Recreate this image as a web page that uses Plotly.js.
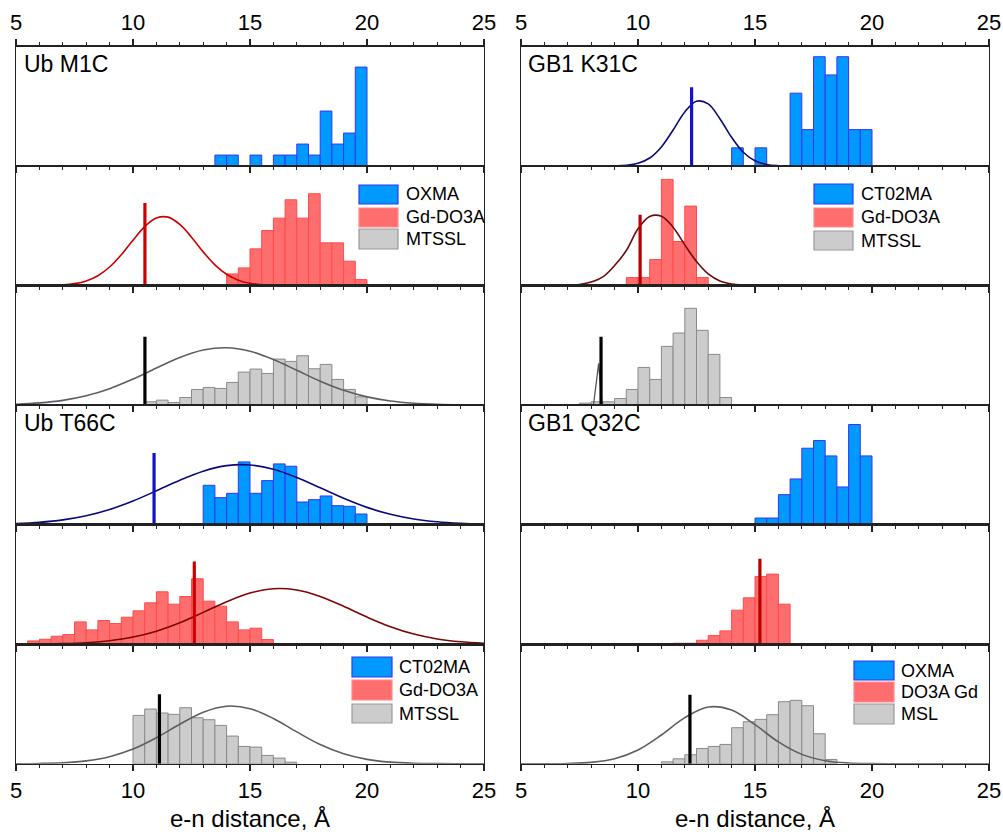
<!DOCTYPE html>
<html><head><meta charset="utf-8">
<script src="https://cdn.plot.ly/plotly-3.0.1.min.js"></script>
<style>html,body{margin:0;padding:0;background:#fff}#chart{width:1003px;height:832px}</style>
</head><body><div id="chart"></div><script>
// ---------------- DATA (histograms: first bin left edge + bin values, bin width 0.5 Å) -------------
const binWidth = 0.5;
// Ub M1C
const M1C_OXMA_start = 13.5;
const M1C_OXMA = [1,1,0,1,0,1,1,2,1,5,2,3,9];
const M1C_GdDO3A_start = 14.0;
const M1C_GdDO3A = [35,53,110,165,202,257,202,275,128,128,73,18];
const M1C_MTSSL_start = 10.5;
const M1C_MTSSL = [10,15,8,23,47,53,50,68,99,108,95,138,131,148,109,122,77,47,25];
// Ub T66C
const T66C_CT02MA_start = 13.0;
const T66C_CT02MA = [118,81,94,188,94,132,182,175,68,75,86,57,55,32];
const T66C_GdDO3A_start = 5.5;
const T66C_GdDO3A = [10,15,24,29,67,43,71,62,81,100,124,157,120,143,196,129,114,67,43,48,14];
const T66C_MTSSL_start = 10.0;
const T66C_MTSSL = [145,164,152,148,168,138,132,115,83,52,50,25,17,5];
// GB1 K31C
const K31C_CT02MA_start = 14.0;
const K31C_CT02MA = [1,0,1,0,0,4,2,6,5,6,2,2];
const K31C_GdDO3A_start = 9.5;
const K31C_GdDO3A = [24,24,78,318,132,238,24];
const K31C_MTSSL_start = 7.5;
const K31C_MTSSL = [6,10,10,20,47,113,77,176,216,290,224,152,23];
// GB1 Q32C
const Q32C_OXMA_start = 15.0;
const Q32C_OXMA = [20,20,90,137,229,252,206,113,300,206];
const Q32C_DO3AGd_start = 11.5;
const Q32C_DO3AGd = [3,3,12,26,40,102,139,203,210,120];
const Q32C_MSL_start = 11.0;
const Q32C_MSL = [6,15,27,46,52,58,108,126,133,147,186,190,174,90,13];

// ---------------- DATA (fitted distributions) ----------------
const xFull = [5,6,7,8,9,10,11,12,13,14,15,16,17,18,19,20,21,22,23,24,25];
const M1C_Gd_fit_x = [5,6,7,7.5,8,8.5,9,9.5,10,10.5,11,11.5,12,12.5,13,13.5,14,14.5,15,15.5,16,17,18,25];
const M1C_Gd_fit_y = [0,0.2,2.1,5.8,13.9,29.6,55.7,92.6,136,176.6,202.4,205,183,145,101,62.3,33.9,16.3,6.9,2.6,0.9,0.1,0,0];
const M1C_MTSSL_fit_y = [2.8,6.7,14.4,28.1,49.3,78,111,142.6,165,171.9,161.5,136.8,104.3,71.7,44.4,24.8,12.5,5.7,2.3,0.8,0.3];
const T66C_CT02MA_fit_y = [3.2,7.1,14.4,26.7,45.5,70.9,101.5,133.2,160.2,176.8,179,166.2,141.5,110.5,79.1,51.9,31.3,17.3,8.8,4.1,1.7];
const T66C_Gd_fit_y = [0.2,0.7,1.9,4.7,10.6,21.5,39.2,64.4,95.4,127.4,153.4,166.3,162.5,143.2,113.6,81.3,52.4,30.4,15.9,7.5,3.2];
const T66C_MTSSL_fit_y = [0.3,1.0,3.1,8.8,21.3,44,78,118.4,154.3,172.4,165.1,135.6,95.5,57.6,29.9,13.3,5.0,1.6,0.5,0.1,0];
const K31C_CT02MA_fit_x = [5,8,9,9.5,10,10.5,11,11.5,12,12.5,13,13.5,14,14.5,15,15.5,16,16.5,17,25];
const K31C_CT02MA_fit_y = [0,0,0.01,0.04,0.15,0.44,1.05,1.98,2.97,3.56,3.41,2.6,1.58,0.76,0.29,0.09,0.02,0,0,0];
const K31C_Gd_fit_x = [5,7,7.5,8,8.5,9,9.5,10,10.5,11,11.5,12,12.5,13,13.5,14,14.5,15,25];
const K31C_Gd_fit_y = [0,0.8,3.2,10.5,26,60,105,170,207,208,175,122,72,35,14,5,1.5,0.3,0];
const K31C_MTSSL_fit_x = [5,8.1,8.32,8.46,25];
const K31C_MTSSL_fit_y = [0,2,125,2,0];
const Q32C_MSL_fit_y = [0,0.2,0.9,4.3,15.3,41.4,86.3,138.2,170.1,161,117.1,65.5,28.2,9.3,2.4,0.5,0.1,0,0,0,0];

// Calculated (reference) distances: [x, height]
const M1C_Gd_calc = [10.51, 247];
const M1C_MTSSL_calc = [10.51, 205];
const T66C_CT02MA_calc = [10.9, 215];
const T66C_Gd_calc = [12.62, 248];
const T66C_MTSSL_calc = [11.13, 208];
const K31C_CT02MA_calc = [12.29, 4.33];
const K31C_Gd_calc = [10.09, 212];
const K31C_MTSSL_calc = [8.42, 205];
const Q32C_DO3AGd_calc = [15.21, 256];
const Q32C_MSL_calc = [12.22, 207];

const panelLabels = ['Ub M1C','Ub T66C','GB1 K31C','GB1 Q32C'];
const legendLeftTop = ['OXMA','Gd-DO3A','MTSSL'];
const legendLeftBottom = ['CT02MA','Gd-DO3A','MTSSL'];
const legendRightTop = ['CT02MA','Gd-DO3A','MTSSL'];
const legendRightBottom = ['OXMA','DO3A Gd','MSL'];
const xTitle = 'e-n distance, Å';

// ---------------- STYLE ----------------
const FONT = 'Liberation Sans, Arial, Helvetica, sans-serif';
const BAR = {
  blue: {fill:'#0099ff', edge:'#3535f5'},
  red:  {fill:'#ff6e6e', edge:'#ff4a4a'},
  gray: {fill:'#cccccc', edge:'#8a8a8a'}
};
const W = 1003, H = 832;
const colX = [[16,484],[521,989]];
const topPx = 46.5, rowH = 119.55;

const panels = [
  {col:0,row:0,ymax:10.87, bars:[[M1C_OXMA_start,M1C_OXMA,'blue','OXMA']]},
  {col:0,row:1,ymax:358, bars:[[M1C_GdDO3A_start,M1C_GdDO3A,'red','Gd-DO3A']],
    curve:[M1C_Gd_fit_x,M1C_Gd_fit_y,'#cc0000','spline'], vline:[M1C_Gd_calc,'#cc0000']},
  {col:0,row:2,ymax:358, bars:[[M1C_MTSSL_start,M1C_MTSSL,'gray','MTSSL']],
    curve:[xFull,M1C_MTSSL_fit_y,'#5e5e5e','spline'], vline:[M1C_MTSSL_calc,'#000000']},
  {col:0,row:3,ymax:358, bars:[[T66C_CT02MA_start,T66C_CT02MA,'blue','CT02MA']],
    curve:[xFull,T66C_CT02MA_fit_y,'#0a0a7a','spline'], vline:[T66C_CT02MA_calc,'#1212c8']},
  {col:0,row:4,ymax:358, bars:[[T66C_GdDO3A_start,T66C_GdDO3A,'red','Gd-DO3A']],
    curve:[xFull,T66C_Gd_fit_y,'#7a0606','spline'], vline:[T66C_Gd_calc,'#cc0000']},
  {col:0,row:5,ymax:358, bars:[[T66C_MTSSL_start,T66C_MTSSL,'gray','MTSSL']],
    curve:[xFull,T66C_MTSSL_fit_y,'#5e5e5e','spline'], vline:[T66C_MTSSL_calc,'#000000']},
  {col:1,row:0,ymax:6.56, bars:[[K31C_CT02MA_start,K31C_CT02MA,'blue','CT02MA']],
    curve:[K31C_CT02MA_fit_x,K31C_CT02MA_fit_y,'#0a0a7a','spline'], vline:[K31C_CT02MA_calc,'#1212c8']},
  {col:1,row:1,ymax:358, bars:[[K31C_GdDO3A_start,K31C_GdDO3A,'red','Gd-DO3A']],
    curve:[K31C_Gd_fit_x,K31C_Gd_fit_y,'#6e0a0a','spline'], vline:[K31C_Gd_calc,'#b80000']},
  {col:1,row:2,ymax:358, bars:[[K31C_MTSSL_start,K31C_MTSSL,'gray','MTSSL']],
    curve:[K31C_MTSSL_fit_x,K31C_MTSSL_fit_y,'#555555','linear'], vline:[K31C_MTSSL_calc,'#000000']},
  {col:1,row:3,ymax:358, bars:[[Q32C_OXMA_start,Q32C_OXMA,'blue','OXMA']]},
  {col:1,row:4,ymax:358, bars:[[Q32C_DO3AGd_start,Q32C_DO3AGd,'red','DO3A Gd']],
    vline:[Q32C_DO3AGd_calc,'#b80000']},
  {col:1,row:5,ymax:358, bars:[[Q32C_MSL_start,Q32C_MSL,'gray','MSL']],
    curve:[xFull,Q32C_MSL_fit_y,'#5e5e5e','spline'], vline:[Q32C_MSL_calc,'#000000']}
];

const traces = [];
const layout = {
  width: W, height: H, margin:{l:0,r:0,t:0,b:0},
  paper_bgcolor:'#fff', plot_bgcolor:'rgba(0,0,0,0)',
  showlegend:false, barmode:'overlay', bargap:0,
  font:{family:FONT, color:'#000'},
  shapes:[], annotations:[]
};

panels.forEach(p => {
  const n = p.col*6 + p.row + 1;
  const xa = n===1 ? 'x' : 'x'+n, ya = n===1 ? 'y' : 'y'+n;
  const xk = n===1 ? 'xaxis' : 'xaxis'+n, yk = n===1 ? 'yaxis' : 'yaxis'+n;
  const top = topPx + p.row*rowH, bot = top + rowH;
  const isTop = p.row===0, isBot = p.row===5;
  layout[xk] = {
    domain:[colX[p.col][0]/W, colX[p.col][1]/W], anchor:ya, range:[5,25],
    tick0:5, dtick:5, ticks:'outside', ticklen:6, tickwidth:1.3, tickcolor:'#222',
    showline:true, linecolor:'#222', linewidth:1.3, mirror: isTop ? 'ticks' : true,
    side: isTop ? 'top' : 'bottom', showgrid:false, zeroline:false,
    showticklabels: isTop || isBot, ticklabelstandoff: 0,
    tickfont:{family:FONT, size:22, color:'#000'},
    minor:{dtick:1, ticks:'outside', ticklen:3, tickwidth:1.1, tickcolor:'#222', showgrid:false},
    fixedrange:true
  };
  if (isBot) layout[xk].title = {text:xTitle, font:{family:FONT, size:24, color:'#000'}, standoff:10};
  layout[yk] = {
    domain:[1-bot/H, 1-top/H], anchor:xa, range:[0,p.ymax],
    showline:true, linecolor:'#222', linewidth:1.3, mirror:true,
    ticks:'', showticklabels:false, showgrid:false, zeroline:false, fixedrange:true
  };
  p.bars.forEach(b => {
    const [start, vals, kind, name] = b;
    traces.push({
      type:'bar', name:name, xaxis:xa, yaxis:ya,
      x: vals.map((v,i) => start + binWidth*i + binWidth/2),
      y: vals, width: binWidth,
      marker:{color:BAR[kind].fill, line:{color:BAR[kind].edge, width:1}},
      hoverinfo:'x+y'
    });
  });
  if (p.curve) {
    const [cx, cy, col, shape] = p.curve;
    traces.push({type:'scatter', mode:'lines', xaxis:xa, yaxis:ya, x:cx, y:cy,
      line:{color:col, width: shape==='linear'?1.3:1.6, shape:shape, smoothing:1}, cliponaxis:true});
  }
  if (p.vline) {
    const [[vx, vh], col] = p.vline;
    traces.push({type:'scatter', mode:'lines', xaxis:xa, yaxis:ya, x:[vx,vx], y:[0,vh],
      line:{color:col, width:3.2}});
  }
});

// panel labels
[[22,64,panelLabels[0]],[22,423,panelLabels[1]],[526,64,panelLabels[2]],[526,423,panelLabels[3]]].forEach(a => {
  layout.annotations.push({xref:'paper', yref:'paper', x:a[0]/W, y:1-a[1]/H, xanchor:'left', yanchor:'middle',
    text:a[2], showarrow:false, font:{family:FONT, size:23, color:'#000'}});
});

// legends (swatch boxes + text)
function addLegend(x0, x1, ys, tx, labels) {
  const kinds = ['blue','red','gray'];
  labels.forEach((lab,i) => {
    const [y0,y1] = ys[i];
    layout.shapes.push({type:'rect', xref:'paper', yref:'paper', x0:x0/W, x1:x1/W, y0:1-y1/H, y1:1-y0/H,
      fillcolor:BAR[kinds[i]].fill, line:{color: i===0 ? '#3535f5' : (i===1 ? '#ff8a8a' : '#999999'), width:1.2}});
    layout.annotations.push({xref:'paper', yref:'paper', x:tx/W, y:1-((y0+y1)/2)/H, xanchor:'left', yanchor:'middle',
      text:lab, showarrow:false, font:{family:FONT, size:18, color:'#000'}});
  });
}
addLegend(359, 398, [[185,204],[208,227],[229,249]], 404, legendLeftTop);
addLegend(352, 392, [[657,677],[680,700],[704,723]], 397, legendLeftBottom);
addLegend(814, 853, [[184,204],[208,227],[231,250]], 859, legendRightTop);
addLegend(854, 894, [[661,680],[682,702],[704,724]], 899, legendRightBottom);

Plotly.newPlot('chart', traces, layout, {displayModeBar:false, staticPlot:true});
</script></body></html>
